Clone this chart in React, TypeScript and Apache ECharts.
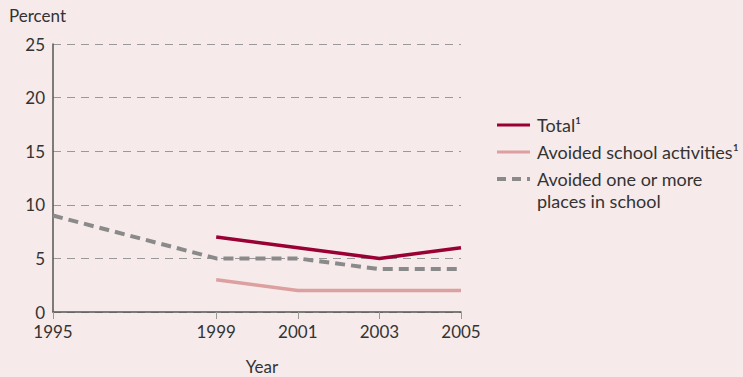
import React, { useEffect, useRef } from "react";
import * as echarts from "echarts";

const years = [1995, 1999, 2001, 2003, 2005];
const total: (number | null)[] = [null, 7, 6, 5, 6];
const avoidedActivities: (number | null)[] = [null, 3, 2, 2, 2];
const avoidedPlaces: (number | null)[] = [9, 5, 5, 4, 4];
const legendLabels = ["Total¹", "Avoided school activities¹", "Avoided one or more\nplaces in school"];
const colors = ["#990033", "#dca0a0", "#8a8a8a"];

const FONT = "Lato, 'Open Sans', sans-serif";

function pairs(vals: (number | null)[]) {
  return years.map((y, i) => [y, vals[i]]).filter((p) => p[1] !== null);
}

export default function App() {
  const ref = useRef<HTMLDivElement>(null);
  useEffect(() => {
    const chart = echarts.init(ref.current!, null, { renderer: "svg" });
    const legendY = [125, 152, 179];
    const graphic: any[] = [];
    legendLabels.forEach((lab, i) => {
      graphic.push({
        type: "line",
        shape: { x1: 497, y1: legendY[i], x2: 530, y2: legendY[i] },
        style: {
          stroke: colors[i],
          lineWidth: i === 2 ? 4 : 3,
          lineDash: i === 2 ? [9, 6] : undefined,
        },
      });
      graphic.push({
        type: "text",
        x: 537,
        y: legendY[i] - 11,
        style: {
          text: lab,
          fill: "#333",
          font: `18px ${FONT}`,
          lineHeight: 22,
        },
      });
    });
    chart.setOption({
      animation: false,
      backgroundColor: "#f6eaea",
      textStyle: { fontFamily: FONT },
      grid: { left: 53, right: 282, top: 44, bottom: 65, containLabel: false, outerBoundsMode: "none" },
      xAxis: {
        type: "value",
        min: 1995,
        max: 2005,
        name: "Year",
        nameLocation: "middle",
        nameGap: 46,
        nameTextStyle: { color: "#333", fontSize: 17, fontFamily: FONT, padding: [0, 0, 0, 10] },
        axisLine: { lineStyle: { color: "#555", width: 1.5 } },
        axisTick: { show: true, length: 7, customValues: years, lineStyle: { color: "#999" } },
        axisLabel: {
          customValues: years,
          formatter: (v: number) => String(v),
          color: "#333",
          fontSize: 17,
          fontFamily: FONT,
          margin: 11,
        },
        splitLine: { show: false },
      },
      yAxis: {
        type: "value",
        min: 0,
        max: 25,
        interval: 5,
        name: "Percent",
        nameLocation: "end",
        nameGap: 20,
        nameTextStyle: { color: "#333", fontSize: 17, fontFamily: FONT, align: "left", padding: [0, 0, 0, -44] },
        axisLine: { show: true, lineStyle: { color: "#555", width: 1.5 } },
        axisTick: { show: false },
        axisLabel: { color: "#333", fontSize: 17, fontFamily: FONT, margin: 8 },
        splitLine: { show: true, lineStyle: { color: "#999", type: [8, 6], width: 1 } },
      },
      series: [
        {
          name: legendLabels[0],
          type: "line",
          data: pairs(total),
          symbol: "none",
          lineStyle: { color: colors[0], width: 3.5 },
          z: 4,
        },
        {
          name: legendLabels[1],
          type: "line",
          data: pairs(avoidedActivities),
          symbol: "none",
          lineStyle: { color: colors[1], width: 3.5 },
          z: 3,
        },
        {
          name: legendLabels[2],
          type: "line",
          data: pairs(avoidedPlaces),
          symbol: "none",
          lineStyle: { color: colors[2], width: 4, type: [10, 6] },
          z: 2,
        },
      ],
      graphic,
    });
    return () => chart.dispose();
  }, []);
  return <div ref={ref} style={{ width: 743, height: 377, position: "absolute", left: 0, top: 0 }} />;
}
